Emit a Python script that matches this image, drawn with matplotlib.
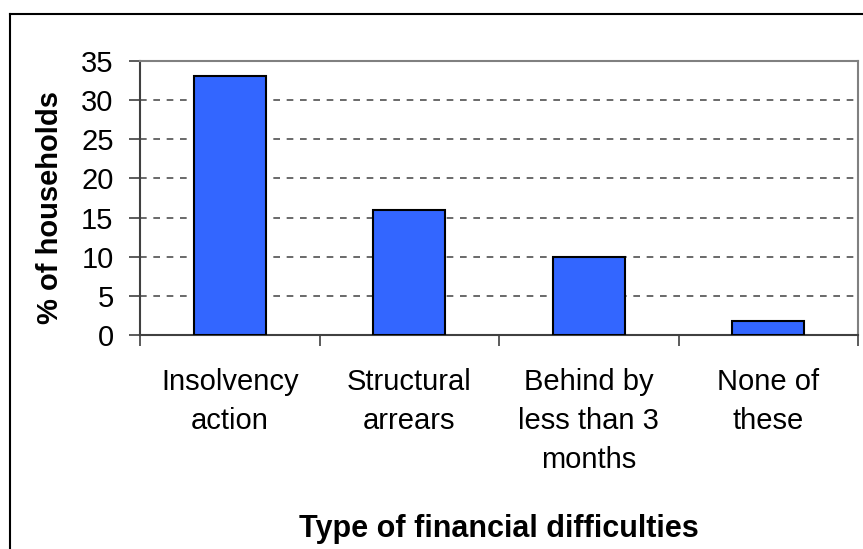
import matplotlib.pyplot as plt
from matplotlib.lines import Line2D
from matplotlib.ticker import FixedLocator

plt.rcParams['font.family'] = ['Liberation Sans', 'DejaVu Sans']

categories = ['Insolvency\naction', 'Structural\narrears',
              'Behind by\nless than 3\nmonths', 'None of\nthese']
values = [33.1, 16.0, 9.9, 1.8]
yticks = [0, 5, 10, 15, 20, 25, 30, 35]

W, H = 863, 549
fig = plt.figure(figsize=(W / 100, H / 100), dpi=100)
ax = fig.add_axes([140 / W, 1 - 335 / H, 718 / W, 274 / H])

x = range(len(categories))
ax.bar(x, values, width=0.4, color='#3366FF', edgecolor='black',
       linewidth=1.5, zorder=3)

ax.set_xlim(-0.5, len(categories) - 0.5)
ax.set_ylim(0, 35)
ax.set_yticks(yticks)
ax.set_xticks(list(x))
ax.set_xticklabels(categories, fontsize=21, linespacing=1.5)
# ticks sit on the category boundaries, labels in between
ax.xaxis.set_minor_locator(FixedLocator([i - 0.5 for i in range(len(categories) + 1)]))
ax.tick_params(axis='x', which='major', length=0, pad=24)
ax.tick_params(axis='x', which='minor', length=8, width=1.2, color='#404040')
ax.tick_params(axis='y', length=8, width=1.2, color='#404040', labelsize=21, pad=11)

ax.yaxis.grid(True, linestyle=(0, (4, 4)), color='#505050', linewidth=1.2, zorder=1)

ax.spines['left'].set_color('#404040')
ax.spines['bottom'].set_color('#404040')
ax.spines['top'].set_color('#808080')
ax.spines['right'].set_color('#808080')
for s in ax.spines.values():
    s.set_linewidth(1.5)

ax.set_ylabel('% of households', fontsize=21, fontweight='bold')
ax.yaxis.set_label_coords((64 - 140) / 718, 0.467)
ax.set_xlabel('Type of financial difficulties', fontsize=22, fontweight='bold')
ax.xaxis.set_label_coords(0.5, -(537 - 335) / 274)
ax.xaxis.label.set_verticalalignment('baseline')

# outer frame: only its top and left edges fall inside the image
fig.add_artist(Line2D([9.5 / W, 9.5 / W], [0, 1 - 14 / H], color='black', linewidth=1.5))
fig.add_artist(Line2D([9.5 / W, 1], [1 - 14 / H, 1 - 14 / H], color='black', linewidth=1.5))

fig.savefig('out.png', dpi=100)
